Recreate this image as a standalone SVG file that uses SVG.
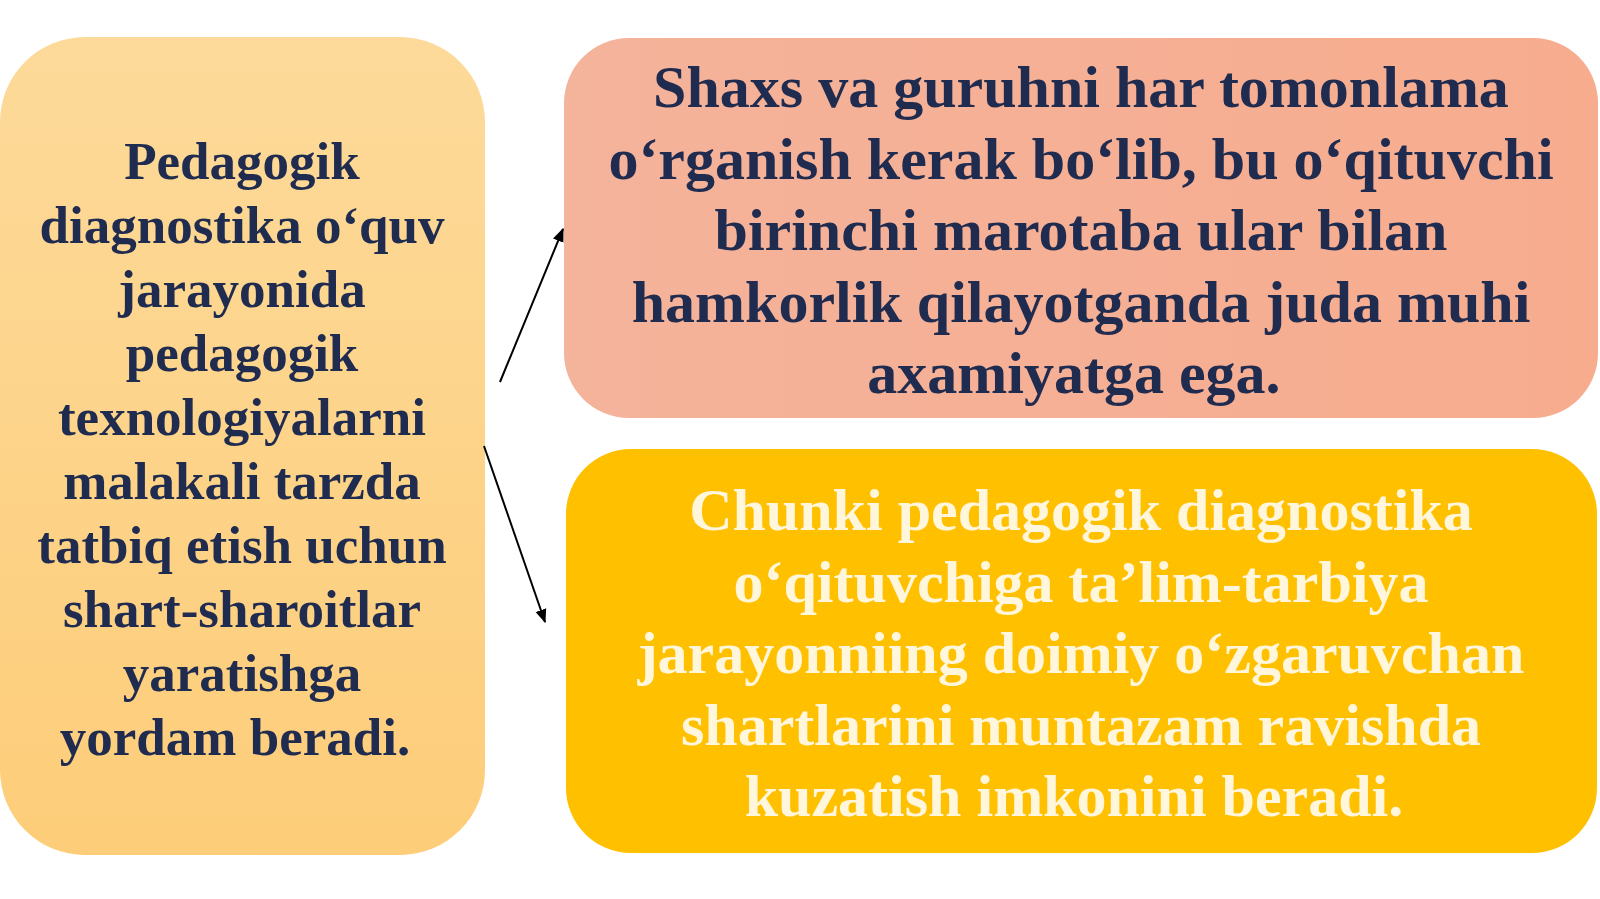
<svg xmlns="http://www.w3.org/2000/svg" width="1600" height="899" viewBox="0 0 1600 899">
<style>
.t{font-family:"Liberation Serif","Times New Roman",serif;font-weight:bold;text-anchor:middle}
.l{font-size:53px;fill:#1F2B4F}
.r{font-size:60px;fill:#1F2B4F}
.w{font-size:60px;fill:#FFF6DC}
.c{stroke:#000;stroke-width:2;fill:none;marker-end:url(#ah)}
</style>
<defs>
<linearGradient id="g1" x1="0" y1="0" x2="0" y2="1"><stop offset="0" stop-color="#FDDA9A"/><stop offset="1" stop-color="#FDCD79"/></linearGradient>
<linearGradient id="g2" x1="0" y1="0" x2="1" y2="0"><stop offset="0" stop-color="#F4B39B"/><stop offset="1" stop-color="#F7AC8E"/></linearGradient>
<marker id="ah" viewBox="0 0 10 10" refX="9" refY="5" markerWidth="7" markerHeight="7" orient="auto"><path d="M0,1 L10,5 L0,9 z" fill="#000"/></marker>
</defs>
<rect width="1600" height="899" fill="#fff"/>
<g id="node-left">
<rect x="0" y="37" width="485" height="818" rx="85" fill="url(#g1)"/>
<text class="t l" x="242" y="179">Pedagogik</text>
<text class="t l" x="242" y="243">diagnostika o‘quv</text>
<text class="t l" x="242" y="307">jarayonida</text>
<text class="t l" x="242" y="371">pedagogik</text>
<text class="t l" x="242" y="435">texnologiyalarni</text>
<text class="t l" x="242" y="499">malakali tarzda</text>
<text class="t l" x="242" y="563">tatbiq etish uchun</text>
<text class="t l" x="242" y="627">shart-sharoitlar</text>
<text class="t l" x="242" y="691">yaratishga</text>
<text class="t l" x="235" y="755">yordam beradi.</text>
</g>
<g id="node-top">
<rect x="564" y="38" width="1034" height="380" rx="65" fill="url(#g2)"/>
<text class="t r" x="1081" y="107">Shaxs va guruhni har tomonlama</text>
<text class="t r" x="1081" y="179">o‘rganish kerak bo‘lib, bu o‘qituvchi</text>
<text class="t r" x="1081" y="250">birinchi marotaba ular bilan</text>
<text class="t r" x="1081" y="322">hamkorlik qilayotganda juda muhi</text>
<text class="t r" x="1074" y="393">axamiyatga ega.</text>
</g>
<g id="node-bottom">
<rect x="566" y="449" width="1031" height="404" rx="65" fill="#FFC000"/>
<text class="t w" x="1081" y="530">Chunki pedagogik diagnostika</text>
<text class="t w" x="1081" y="602">o‘qituvchiga ta’lim-tarbiya</text>
<text class="t w" x="1081" y="673">jarayonniing doimiy o‘zgaruvchan</text>
<text class="t w" x="1081" y="745">shartlarini muntazam ravishda</text>
<text class="t w" x="1074" y="816">kuzatish imkonini beradi.</text>
</g>
<g id="connectors">
<line class="c" x1="500" y1="382" x2="563" y2="229"/>
<line class="c" x1="484" y1="446" x2="545" y2="622"/>
</g>
</svg>
